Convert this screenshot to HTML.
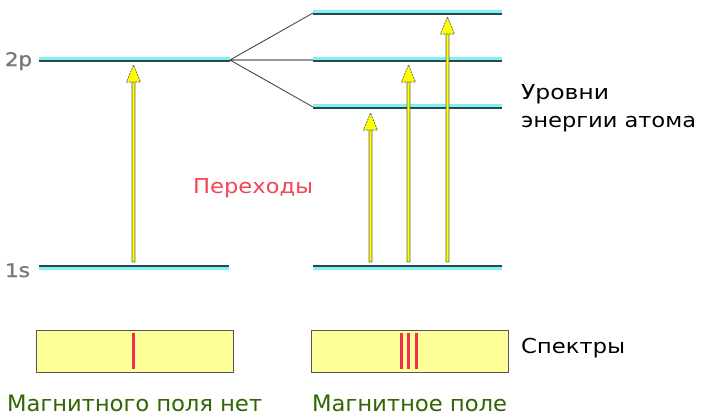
<!DOCTYPE html>
<html><head><meta charset="utf-8"><style>
body{margin:0;background:#fff;}
svg{display:block}
text{font-family:"DejaVu Sans","Liberation Sans",sans-serif;}
</style></head><body>
<svg width="703" height="420" viewBox="0 0 703 420" xmlns="http://www.w3.org/2000/svg">
<defs>
<g id="ah"><polygon points="0,0 -7,17 7,17" fill="#ffff00" stroke="#555" stroke-width="0.8" stroke-dasharray="2,1"/></g>
</defs>
<g>
<rect x="39" y="57" width="191" height="3" fill="#80f0f0"/><rect x="39" y="60" width="191" height="2" fill="#2a4a4a"/>
<rect x="313" y="10" width="189" height="3" fill="#80f0f0"/><rect x="313" y="13" width="189" height="2" fill="#2a4a4a"/>
<rect x="313" y="57" width="189" height="3" fill="#80f0f0"/><rect x="313" y="60" width="189" height="2" fill="#2a4a4a"/>
<rect x="313" y="104" width="189" height="3" fill="#80f0f0"/><rect x="313" y="107" width="189" height="2" fill="#2a4a4a"/>
<rect x="39" y="265" width="190" height="2" fill="#2a4a4a"/><rect x="39" y="267" width="190" height="3" fill="#80f0f0"/>
<rect x="313" y="265" width="189" height="2" fill="#2a4a4a"/><rect x="313" y="267" width="189" height="3" fill="#80f0f0"/>
</g>
<line x1="230" y1="60" x2="313" y2="13" stroke="#333" stroke-width="1"/>
<line x1="230" y1="60" x2="313" y2="60" stroke="#333" stroke-width="1"/>
<line x1="230" y1="60" x2="313" y2="107" stroke="#333" stroke-width="1"/>
<g stroke="#444" stroke-width="0.6">
<rect x="132" y="80" width="3" height="182" fill="#ffff00"/>
<rect x="369" y="128" width="3" height="134" fill="#ffff00"/>
<rect x="407" y="80" width="3" height="182" fill="#ffff00"/>
<rect x="446" y="32" width="3" height="230" fill="#ffff00"/>
</g>
<use href="#ah" x="133.5" y="65"/>
<use href="#ah" x="370.5" y="113"/>
<use href="#ah" x="408.5" y="65"/>
<use href="#ah" x="447.5" y="17"/>
<text x="5" y="66" font-size="19" fill="#777" stroke="#777" stroke-width="0.4" textLength="27" lengthAdjust="spacingAndGlyphs">2p</text>
<text x="5" y="277" font-size="19" fill="#777" stroke="#777" stroke-width="0.4" textLength="25" lengthAdjust="spacingAndGlyphs">1s</text>
<text x="193" y="193" font-size="20" fill="#f04858" textLength="120" lengthAdjust="spacingAndGlyphs">Переходы</text>
<text x="521" y="99" font-size="20" fill="#000" textLength="88" lengthAdjust="spacingAndGlyphs">Уровни</text>
<text x="521" y="127" font-size="20" fill="#000" textLength="175" lengthAdjust="spacingAndGlyphs">энергии атома</text>
<text x="521" y="353" font-size="20" fill="#000" textLength="104" lengthAdjust="spacingAndGlyphs">Спектры</text>
<rect x="36.5" y="330.5" width="197" height="42" fill="#ffff99" stroke="#555"/>
<rect x="311.5" y="330.5" width="197" height="42" fill="#ffff99" stroke="#555"/>
<g fill="#f03050">
<rect x="132" y="333" width="3" height="36"/>
<rect x="400" y="333" width="3" height="36"/>
<rect x="407" y="333" width="3" height="36"/>
<rect x="415" y="333" width="3" height="36"/>
</g>
<text x="7" y="411" font-size="22" fill="#336600" textLength="255" lengthAdjust="spacingAndGlyphs">Магнитного поля нет</text>
<text x="312" y="411" font-size="22" fill="#336600" textLength="195" lengthAdjust="spacingAndGlyphs">Магнитное поле</text>
</svg>
</body></html>
